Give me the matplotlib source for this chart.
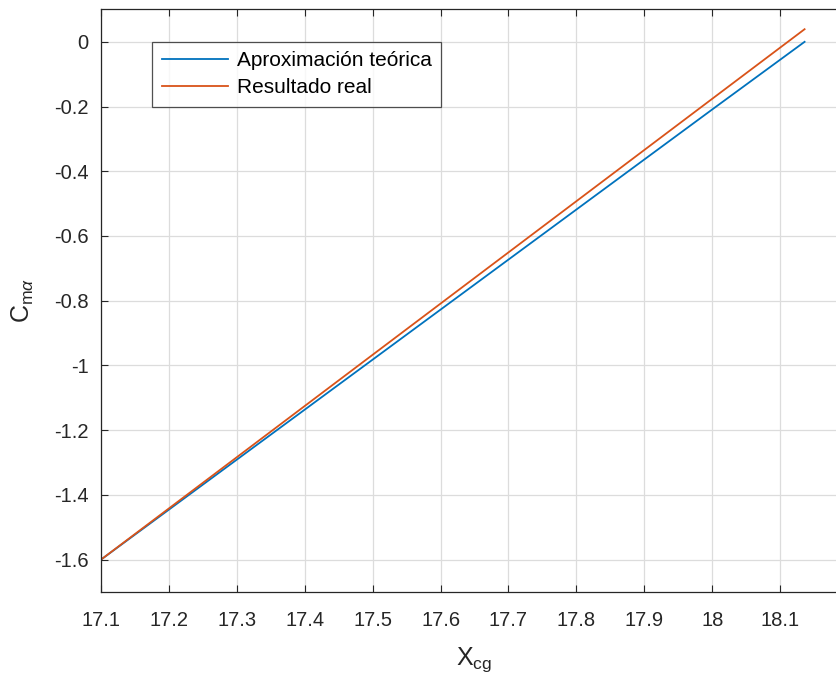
import matplotlib
matplotlib.use("Agg")
import matplotlib.pyplot as plt

plt.rcParams["font.family"] = ["Liberation Sans", "DejaVu Sans"]
plt.rcParams["mathtext.fontset"] = "custom"
plt.rcParams["mathtext.rm"] = "Liberation Sans"
plt.rcParams["mathtext.it"] = "Liberation Sans:italic"

# values
x_teo = [17.1, 17.5, 18.0, 18.136]
cm_teo = [-1.6, -0.982, -0.209, 0.0]
x_real = [17.1, 17.5, 18.0, 18.136]
cm_real = [-1.6, -0.967, -0.176, 0.039]

xticks = [17.1, 17.2, 17.3, 17.4, 17.5, 17.6, 17.7, 17.8, 17.9, 18.0, 18.1]
xticklabels = ["17.1", "17.2", "17.3", "17.4", "17.5", "17.6", "17.7", "17.8", "17.9", "18", "18.1"]
yticks = [-1.6, -1.4, -1.2, -1.0, -0.8, -0.6, -0.4, -0.2, 0.0]
yticklabels = ["-1.6", "-1.4", "-1.2", "-1", "-0.8", "-0.6", "-0.4", "-0.2", "0"]

fig = plt.figure(figsize=(8.37, 6.76), dpi=100)
ax = fig.add_axes([0.1207, 0.1243, 0.8925, 0.8617])

ax.plot(x_teo, cm_teo, color="#0072BD", lw=1.3, label="Aproximación teórica")
ax.plot(x_real, cm_real, color="#D95319", lw=1.3, label="Resultado real")

ax.set_xlim(17.1, 18.2)
ax.set_ylim(-1.7, 0.1)
ax.set_xticks(xticks)
ax.set_xticklabels(xticklabels)
ax.set_yticks(yticks)
ax.set_yticklabels(yticklabels)
ax.tick_params(direction="in", top=True, right=True, labelsize=14.5,
               colors="#262626", length=5, width=0.8)
ax.tick_params(axis="x", pad=14)
ax.tick_params(axis="y", pad=9)
ax.grid(True, color="#dcdcdc", lw=0.9)
ax.set_axisbelow(True)
for sp in ax.spines.values():
    sp.set_color("#262626")
    sp.set_linewidth(0.9)

ax.set_xlabel(r"X$_{\rm cg}$", fontsize=18, color="#262626", labelpad=11)
ax.set_ylabel(r"C$_{{\rm m}\alpha}$", fontsize=18, color="#262626", labelpad=13)

leg = ax.legend(loc="upper left", bbox_to_anchor=(0.0685, 0.945), fontsize=15,
                frameon=True, fancybox=False, edgecolor="#262626",
                handlelength=3.2, handletextpad=0.4, borderpad=0.45,
                labelspacing=0.4, borderaxespad=0)
leg.get_frame().set_linewidth(0.9)

fig.savefig("out.png", dpi=100)
